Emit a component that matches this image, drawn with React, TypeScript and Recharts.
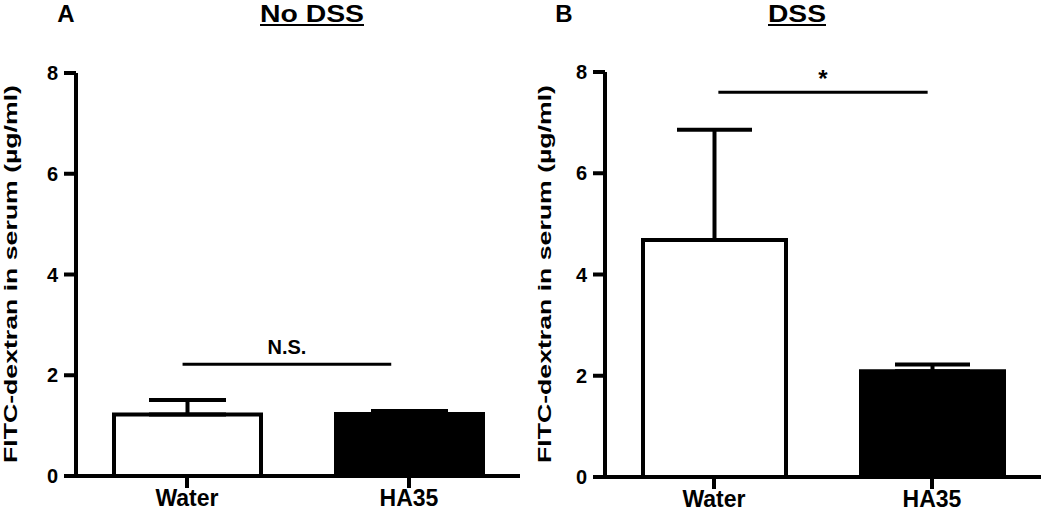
import { BarChart, Bar, Cell, XAxis, YAxis, ErrorBar, ReferenceLine } from "recharts";

const groups = ["Water", "HA35"];
const barFills = ["#ffffff", "#000000"];
const yTicks = [0, 2, 4, 6, 8];

const noDssMean = [1.22, 1.23];
const noDssErr = [0.29, 0.06];
const dssMean = [4.68, 2.09];
const dssErr = [2.18, 0.13];

// significance brackets: label, y level, span along the x range (0..1)
const noDssSig = { label: "N.S.", level: 2.22, span: [0.24, 0.71] };
const dssSig = { label: "*", level: 7.6, span: [0.26, 0.74] };

const FONT = '"Liberation Sans", Arial, sans-serif';

const toRows = (mean: number[], err: number[]) =>
  groups.map((g, i) => ({ group: g, value: mean[i], err: [0, err[i]] }));

function Panel({
  rows,
  sig,
  width,
  top,
  right,
  yWidth,
  xHeight,
  barSize,
  capWidth,
  sigFont,
  sigOffset,
}: {
  rows: { group: string; value: number; err: number[] }[];
  sig: { label: string; level: number; span: number[] };
  width: number;
  top: number;
  right: number;
  yWidth: number;
  xHeight: number;
  barSize: number;
  capWidth: number;
  sigFont: number;
  sigOffset: number;
}) {
  const axisLine = { stroke: "#000", strokeWidth: 4 };
  return (
    <BarChart
      width={width}
      height={516}
      data={rows}
      margin={{ top, right, bottom: 0, left: 0 }}
    >
      <XAxis
        dataKey="group"
        height={xHeight}
        axisLine={axisLine}
        tickLine={axisLine}
        tickSize={12}
        tickMargin={2}
        tick={{ fill: "#000", fontSize: 23, fontWeight: 700, fontFamily: FONT }}
      />
      <XAxis xAxisId="sig" type="number" domain={[0, 1]} hide />
      <YAxis
        width={yWidth}
        domain={[0, 8]}
        ticks={yTicks}
        axisLine={axisLine}
        tickLine={axisLine}
        tickSize={12}
        tickMargin={6}
        tick={{ fill: "#000", fontSize: 20, fontWeight: 700, fontFamily: FONT }}
      />
      <Bar
        dataKey="value"
        barSize={barSize}
        stroke="#000"
        strokeWidth={4}
        isAnimationActive={false}
      >
        {rows.map((r, i) => (
          <Cell key={r.group} fill={barFills[i]} />
        ))}
        <ErrorBar
          dataKey="err"
          direction="y"
          width={capWidth}
          stroke="#000"
          strokeWidth={4}
          isAnimationActive={false}
        />
      </Bar>
      <ReferenceLine
        xAxisId="sig"
        segment={[
          { x: sig.span[0], y: sig.level },
          { x: sig.span[1], y: sig.level },
        ]}
        stroke="#000"
        strokeWidth={3}
        label={{
          value: sig.label,
          position: "top",
          offset: sigOffset,
          fill: "#000",
          fontSize: sigFont,
          fontWeight: 700,
          fontFamily: FONT,
        }}
      />
    </BarChart>
  );
}

const yLabel = "FITC-dextran in serum (\u00b5g/ml)";

export default function App() {
  return (
    <div
      style={{
        position: "absolute",
        left: 0,
        top: 0,
        width: 1050,
        height: 516,
        background: "#fff",
        fontFamily: FONT,
      }}
    >
      <div style={{ position: "absolute", left: 0, top: 0 }}>
        <Panel
          rows={toRows(noDssMean, noDssErr)}
          sig={noDssSig}
          width={522}
          top={73}
          right={2}
          yWidth={76}
          xHeight={40}
          barSize={147}
          capWidth={38.5}
          sigFont={20}
          sigOffset={10}
        />
      </div>
      <div style={{ position: "absolute", left: 530, top: 0 }}>
        <Panel
          rows={toRows(dssMean, dssErr)}
          sig={dssSig}
          width={520}
          top={72}
          right={9}
          yWidth={75}
          xHeight={39}
          barSize={143}
          capWidth={37.5}
          sigFont={24}
          sigOffset={5}
        />
      </div>
      <svg
        width={1050}
        height={516}
        style={{ position: "absolute", left: 0, top: 0, pointerEvents: "none" }}
        fontFamily={FONT}
        fontWeight={700}
      >
        <text x={66} y={22} fontSize={24} textAnchor="middle">A</text>
        <text x={260} y={22} fontSize={24} textLength={104} lengthAdjust="spacingAndGlyphs">
          No DSS
        </text>
        <line x1={260} x2={364} y1={25} y2={25} stroke="#000" strokeWidth={2} />
        <text x={564} y={22} fontSize={24} textAnchor="middle">B</text>
        <text x={768} y={22} fontSize={24} textLength={58} lengthAdjust="spacingAndGlyphs">
          DSS
        </text>
        <line x1={768} x2={826} y1={25} y2={25} stroke="#000" strokeWidth={2} />
        <text
          transform="translate(17 463) rotate(-90)"
          fontSize={18}
          textLength={378}
          lengthAdjust="spacingAndGlyphs"
        >
          {yLabel}
        </text>
        <text
          transform="translate(551 463) rotate(-90)"
          fontSize={18}
          textLength={378}
          lengthAdjust="spacingAndGlyphs"
        >
          {yLabel}
        </text>
      </svg>
    </div>
  );
}
